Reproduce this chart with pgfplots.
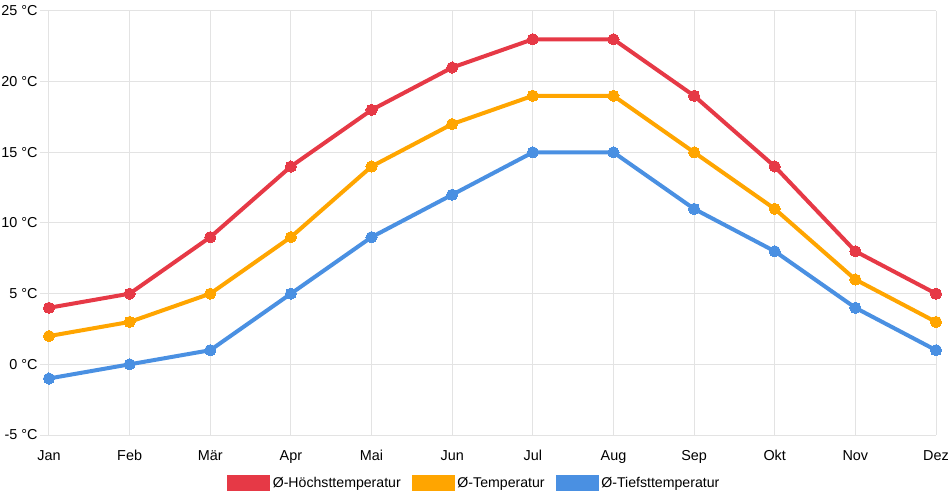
\documentclass[border=0pt]{standalone}
\usepackage{pgfplots}
\pgfplotsset{compat=1.18}
\usepackage{fontspec}
\setmainfont{Liberation Sans}
\definecolor{cred}{HTML}{E63946}
\definecolor{corange}{HTML}{FFA500}
\definecolor{cblue}{HTML}{4A90E2}
\definecolor{cgrid}{HTML}{E3E3E3}
\begin{document}
\begin{tikzpicture}[x=1pt,y=1pt]
\path[use as bounding box] (-36.75pt,-48.75pt) rectangle (677.25pt,326.25pt);
\begin{axis}[
  at={(0pt,0pt)}, anchor=south west, 
  scale only axis,
  width=665.25pt, height=318pt,
  xmin=0, xmax=11, ymin=-5, ymax=25,
  xtick={0,...,11},
  xticklabels={Jan,Feb,Mär,Apr,Mai,Jun,Jul,Aug,Sep,Okt,Nov,Dez},
  ytick={-5,0,5,10,15,20,25},
  yticklabels={-5 °C,0 °C,5 °C,10 °C,15 °C,20 °C,25 °C},
  grid=major,
  grid style={cgrid, line width=0.75pt},
  axis line style={cgrid, line width=0.75pt},
  axis x line*=bottom, axis y line*=left,
  x axis line style={-}, y axis line style={-},
  tick style={cgrid, line width=0.75pt},
  xtick style={draw=none},
  ytick pos=left,
  y tick label style={font=\fontsize{10.8}{12}\selectfont, xshift=2pt},
  x tick label style={font=\fontsize{10.8}{12}\selectfont, text height=8.5pt, text depth=2.5pt, yshift=0pt},
  major tick length=7pt,
  tick align=outside,
  clip=false,
  legend style={at={(0.480,-0.113)}, anchor=center, draw=none, fill=none,
    legend columns=-1, font=\fontsize{10.6}{12}\selectfont, inner sep=0pt,
    /tikz/every even column/.append style={column sep=6.5pt}},
  legend cell align=left,
  legend image code/.code={\fill[#1, draw=none] (0pt,-6pt) rectangle (32pt,6pt);},
  every axis plot/.append style={line width=3pt, mark=*, mark size=4.2pt},
]
\addplot[cred, mark options={solid, fill=cred, line width=0pt}] coordinates {(0,4)(1,5)(2,9)(3,14)(4,18)(5,21)(6,23)(7,23)(8,19)(9,14)(10,8)(11,5)};
\addlegendentry{\strut Ø-Höchsttemperatur}
\addplot[corange, mark options={solid, fill=corange, line width=0pt}] coordinates {(0,2)(1,3)(2,5)(3,9)(4,14)(5,17)(6,19)(7,19)(8,15)(9,11)(10,6)(11,3)};
\addlegendentry{\strut Ø-Temperatur}
\addplot[cblue, mark options={solid, fill=cblue, line width=0pt}] coordinates {(0,-1)(1,0)(2,1)(3,5)(4,9)(5,12)(6,15)(7,15)(8,11)(9,8)(10,4)(11,1)};
\addlegendentry{\strut Ø-Tiefsttemperatur}
\end{axis}
\end{tikzpicture}
\end{document}
